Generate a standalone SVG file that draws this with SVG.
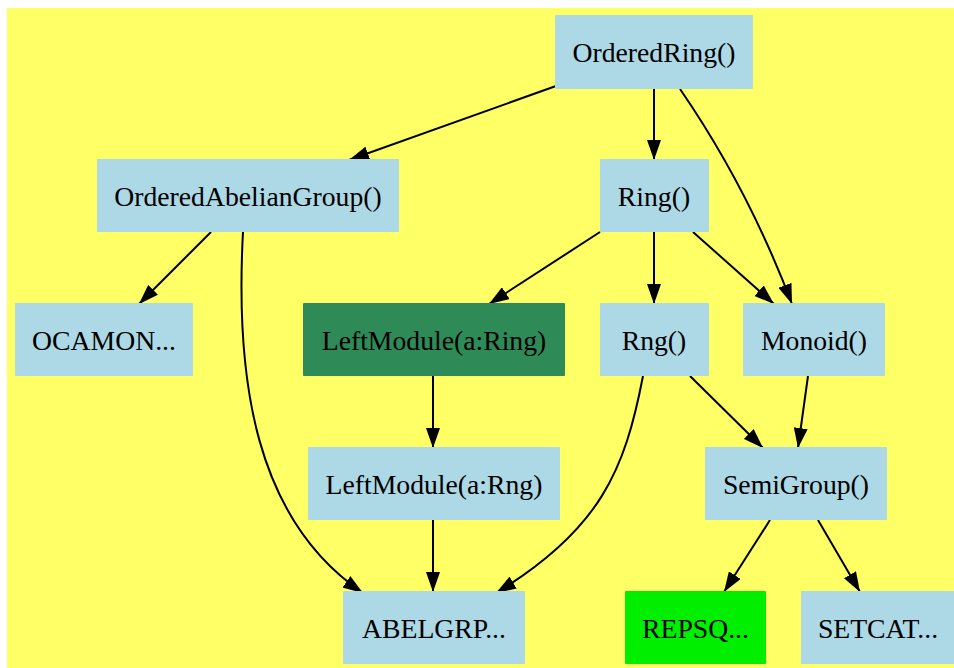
<svg xmlns="http://www.w3.org/2000/svg" width="954" height="668" viewBox="0 0 954 668">
<defs>
<marker id="ah" markerUnits="userSpaceOnUse" markerWidth="20" markerHeight="14" refX="20" refY="7" orient="auto">
<path d="M0,0 L20,7 L0,14 z" fill="#000"/>
</marker>
<style>
.n{fill:#add8e6;}
.t{font-family:"Liberation Serif","Times New Roman",serif;font-size:27.7px;fill:#000;text-anchor:middle;}
.e{fill:none;stroke:#000;stroke-width:2;marker-end:url(#ah);}
</style>
</defs>
<rect x="7" y="8" width="947" height="660" fill="#ffff66"/>
<g id="connectors">
<path class="e" d="M556,86 L349,160"/>
<path class="e" d="M654,89 L654,160"/>
<path class="e" d="M680,89 C722,150 762,225 792,304"/>
<path class="e" d="M211,232 L139,304"/>
<path class="e" d="M243,232 C235,380 255,520 363,593"/>
<path class="e" d="M600,232 L489,304"/>
<path class="e" d="M654,232 L654,304"/>
<path class="e" d="M693,232 L774,304"/>
<path class="e" d="M433,376 L433,448"/>
<path class="e" d="M643,376 C625,470 600,530 496,593"/>
<path class="e" d="M690,376 L763,448"/>
<path class="e" d="M808,376 L798,448"/>
<path class="e" d="M433,520 L433,592"/>
<path class="e" d="M770,520 L724,592"/>
<path class="e" d="M818,520 L860,592"/>
</g>
<g id="OrderedRing"><rect class="n" x="555" y="15" width="198" height="74" rx="1"/><text class="t" x="654" y="62">OrderedRing()</text></g>
<g id="OrderedAbelianGroup"><rect class="n" x="97" y="159" width="302" height="73" rx="1"/><text class="t" x="248" y="206">OrderedAbelianGroup()</text></g>
<g id="Ring"><rect class="n" x="600" y="159" width="109" height="73" rx="1"/><text class="t" x="654" y="206">Ring()</text></g>
<g id="OCAMON"><rect class="n" x="15" y="303" width="178" height="73" rx="1"/><text class="t" x="104" y="350">OCAMON...</text></g>
<g id="LeftModuleRing"><rect x="303" y="303" width="262" height="73" rx="1" fill="#2e8b57"/><text class="t" x="434" y="350">LeftModule(a:Ring)</text></g>
<g id="Rng"><rect class="n" x="600" y="303" width="109" height="73" rx="1"/><text class="t" x="654" y="350">Rng()</text></g>
<g id="Monoid"><rect class="n" x="743" y="303" width="142" height="73" rx="1"/><text class="t" x="814" y="350">Monoid()</text></g>
<g id="LeftModuleRng"><rect class="n" x="308" y="447" width="252" height="73" rx="1"/><text class="t" x="434" y="494">LeftModule(a:Rng)</text></g>
<g id="SemiGroup"><rect class="n" x="705" y="447" width="182" height="73" rx="1"/><text class="t" x="796" y="494">SemiGroup()</text></g>
<g id="ABELGRP"><rect class="n" x="343" y="591" width="182" height="73" rx="1"/><text class="t" x="434" y="638">ABELGRP...</text></g>
<g id="REPSQ"><rect x="625" y="591" width="141" height="73" rx="1" fill="#00ee00"/><text class="t" x="695.5" y="638">REPSQ...</text></g>
<g id="SETCAT"><rect class="n" x="801" y="591" width="160" height="73" rx="1"/><text class="t" x="878" y="638">SETCAT...</text></g>
</svg>
